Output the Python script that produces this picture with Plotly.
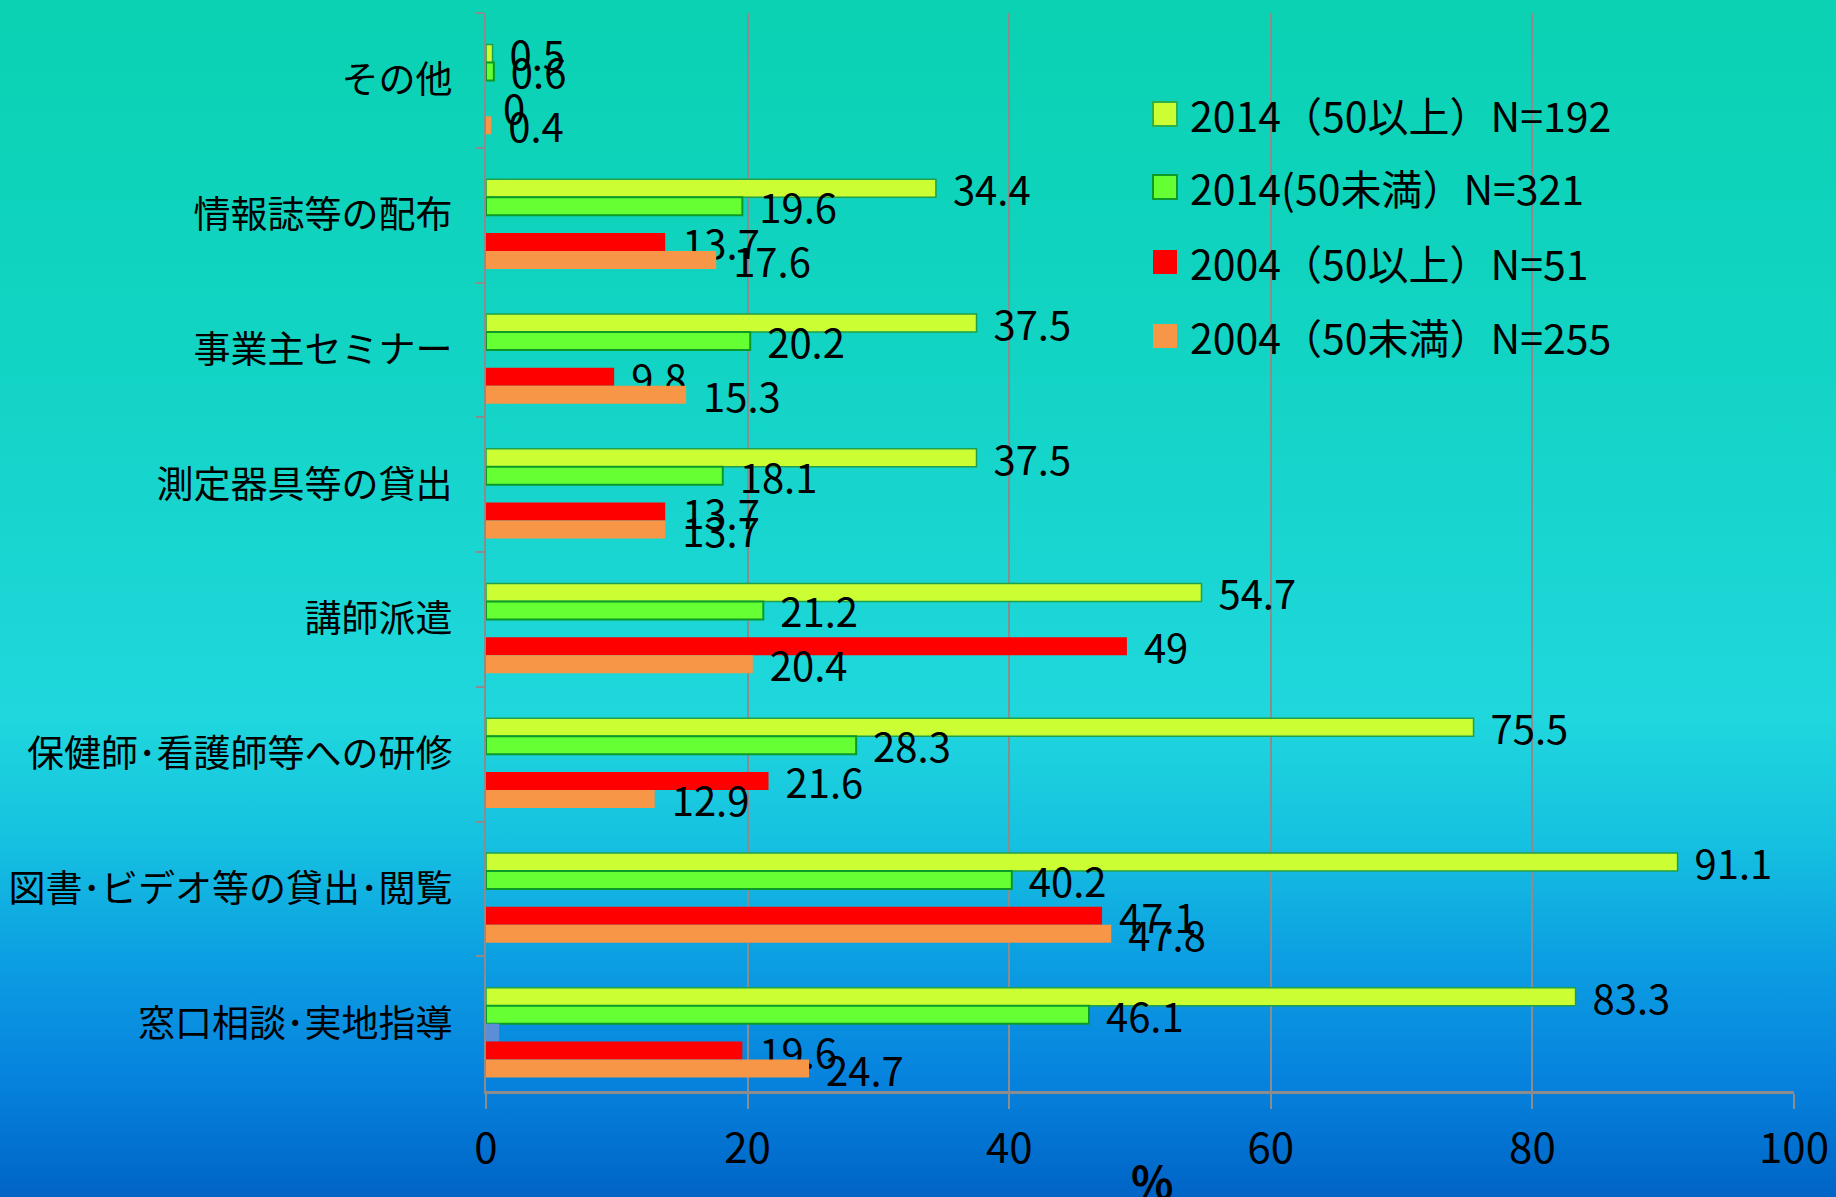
import base64
import plotly.graph_objects as go

# ---------------- data ----------------
categories = [
    "その他",
    "情報誌等の配布",
    "事業主セミナー",
    "測定器具等の貸出",
    "講師派遣",
    "保健師･看護師等への研修",
    "図書･ビデオ等の貸出･閲覧",
    "窓口相談･実地指導",
]
s2014_over50 = [0.5, 34.4, 37.5, 37.5, 54.7, 75.5, 91.1, 83.3]
s2014_under50 = [0.6, 19.6, 20.2, 18.1, 21.2, 28.3, 40.2, 46.1]
s_unlabeled = [0, 0, 0, 0, 0, 0, 0, 1.0]
s2004_over50 = [0, 13.7, 9.8, 13.7, 49, 21.6, 47.1, 19.6]
s2004_under50 = [0.4, 17.6, 15.3, 13.7, 20.4, 12.9, 47.8, 24.7]
s_spacer = [0, 0, 0, 0, 0, 0, 0, 0]

series_names = [
    "2014（50以上）N=192",
    "2014(50未満）N=321",
    "2004（50以上）N=51",
    "2004（50未満）N=255",
]
x_ticks = [0, 20, 40, 60, 80, 100]

# ---------------- style ----------------
W, H = 1836, 1197
L, R, T, B = 486, 42, 13, 106
PW, PH = W - L - R, H - T - B
FONT = "Noto Sans CJK JP"

fills = ["#CCFF33", "#66FF33", "#FF0000", "#F79646"]
lines = ["#1FA04A", "#0B9A2A", "rgba(0,0,0,0)", "rgba(0,0,0,0)"]
line_w = [1.5, 2, 0, 0]


def px_x(px):
    return (px - L) / PW


def px_y(py):
    return 1 - (py - T) / PH


def labels(vals):
    return ["\u00a0\u200a\u200a" + f"{v:g}" for v in vals]


fig = go.Figure()

# spacer slot (top of each group)
fig.add_trace(go.Bar(y=categories, x=s_spacer, orientation="h",
                     marker=dict(color="rgba(0,0,0,0)", line=dict(width=0)),
                     showlegend=False, hoverinfo="skip"))

main = [s2014_over50, s2014_under50, None, s2004_over50, s2004_under50]
k = 0
for vals in main:
    if vals is None:
        fig.add_trace(go.Bar(y=categories, x=s_unlabeled, orientation="h",
                             marker=dict(color="#5B8ED6", line=dict(width=0)),
                             showlegend=False, hoverinfo="skip"))
        continue
    fig.add_trace(go.Bar(
        y=categories, x=vals, orientation="h", name=series_names[k],
        marker=dict(color=fills[k], line=dict(color=lines[k], width=line_w[k])),
        text=labels(vals), textposition="outside", cliponaxis=False,
        constraintext="none",
        textfont=dict(family=FONT, size=40, color="black"),
        showlegend=False,
    ))
    k += 1

# gradient background
svg = (
    '<svg xmlns="http://www.w3.org/2000/svg" width="100" height="100" preserveAspectRatio="none">'
    '<defs><linearGradient id="g" x1="0" y1="0" x2="0" y2="1">'
    '<stop offset="0" stop-color="#0AD2B2"/>'
    '<stop offset="0.3" stop-color="#12D4C4"/>'
    '<stop offset="0.6" stop-color="#1FD7DD"/>'
    '<stop offset="0.7" stop-color="#16C2E0"/>'
    '<stop offset="0.8" stop-color="#0C9FE2"/>'
    '<stop offset="0.9" stop-color="#0683DE"/>'
    '<stop offset="1" stop-color="#0064C6"/>'
    '</linearGradient></defs>'
    '<rect width="100" height="100" fill="url(#g)"/></svg>'
)
src = "data:image/svg+xml;base64," + base64.b64encode(svg.encode()).decode()

shapes = []
annotations = []
# manual legend
leg_y = [114, 187, 262, 336]
leg_line = ["#2DB14A", "#0C9A2A", "rgba(0,0,0,0)", "rgba(0,0,0,0)"]
for i, name in enumerate(series_names):
    cy = leg_y[i]
    shapes.append(dict(type="rect", xref="paper", yref="paper",
                       x0=px_x(1153), x1=px_x(1177), y0=px_y(cy + 12), y1=px_y(cy - 12),
                       fillcolor=fills[i], line=dict(color=leg_line[i], width=2)))
    annotations.append(dict(xref="paper", yref="paper", x=px_x(1188), y=px_y(cy),
                            xanchor="left", yanchor="middle", text=name, showarrow=False,
                            font=dict(family=FONT, size=41, color="black")))

annotations.append(dict(xref="paper", yref="paper", x=px_x(1152), y=px_y(1180),
                        xanchor="center", yanchor="middle", text="<b>%</b>", showarrow=False,
                        font=dict(family=FONT, size=44, color="black")))

fig.update_layout(
    width=W, height=H, autosize=False,
    margin=dict(l=L, r=R, t=T, b=B, pad=0),
    paper_bgcolor="#0A6FCB", plot_bgcolor="rgba(0,0,0,0)",
    barmode="group", bargap=0.2, bargroupgap=0,
    font=dict(family=FONT, color="black"),
    images=[dict(source=src, xref="paper", yref="paper", x=px_x(0), y=px_y(0),
                 sizex=W / PW, sizey=H / PH, xanchor="left", yanchor="top",
                 sizing="stretch", layer="below")],
    shapes=shapes, annotations=annotations, showlegend=False,
    xaxis=dict(range=[0, 100], tickvals=x_ticks, showgrid=True, gridcolor="#8C8C8C",
               gridwidth=1.5, zeroline=False, showline=True, linecolor="#8C8C8C",
               linewidth=3, ticks="outside", ticklen=15, tickcolor="#8C8C8C",
               tickwidth=1.5, tickfont=dict(family=FONT, size=42, color="black"),
               ticklabelstandoff=4, automargin=False, fixedrange=True),
    yaxis=dict(categoryorder="array", categoryarray=categories, autorange="reversed",
               showgrid=False, zeroline=False, showline=True, linecolor="#8C8C8C",
               linewidth=2, ticks="outside", tickson="boundaries", ticklen=8,
               tickcolor="#8C8C8C", tickwidth=2,
               tickfont=dict(family=FONT, size=37, color="black"),
               ticklabelstandoff=24, automargin=False, fixedrange=True),
)

fig.write_html(
    "out.html",
    config={"displayModeBar": False},
    post_script="document.body.style.margin='0px';document.body.style.overflow='hidden';",
)
